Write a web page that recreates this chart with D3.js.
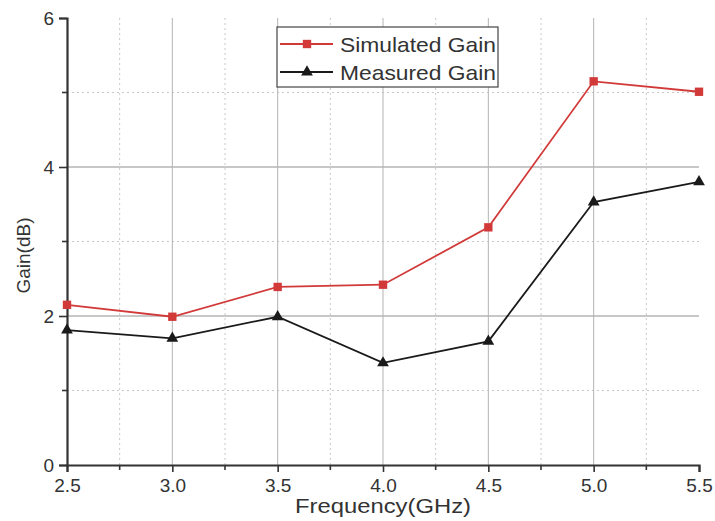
<!DOCTYPE html>
<html>
<head>
<meta charset="utf-8">
<script src="https://cdn.jsdelivr.net/npm/d3@7"></script>
<style>
  html, body { margin: 0; padding: 0; background: #fff; }
  text { font-family: "Liberation Sans", Arial, sans-serif; fill: #333; }
</style>
</head>
<body>
<svg id="chart" width="715" height="521"></svg>
<script>
// Frequency points (GHz) and gain values (dB)
const frequencies = [2.5, 3.0, 3.5, 4.0, 4.5, 5.0, 5.5];
const simulatedGain = [2.15, 1.99, 2.39, 2.42, 3.19, 5.15, 5.01];
const measuredGain = [1.81, 1.70, 1.99, 1.37, 1.66, 3.53, 3.80];
const xTicks = [2.5, 3.0, 3.5, 4.0, 4.5, 5.0, 5.5];
const yTicks = [0, 2, 4, 6];
const xMinor = [2.75, 3.25, 3.75, 4.25, 4.75, 5.25];
const yMinor = [1, 3, 5];

const svg = d3.select("#chart");
const margin = { left: 67, right: 16, top: 18, bottom: 56 };
const W = 715, H = 521;

const x = d3.scaleLinear().domain([2.5, 5.5]).range([margin.left, W - margin.right]);
const y = d3.scaleLinear().domain([0, 6]).range([H - margin.bottom, margin.top]);

// Minor grid (dotted)
const grid = svg.append("g");
grid.selectAll(".xminor").data(xMinor).enter().append("line")
  .attr("x1", d => x(d)).attr("x2", d => x(d))
  .attr("y1", y(0)).attr("y2", y(6))
  .attr("stroke", "#c8c8c8").attr("stroke-width", 1).attr("stroke-dasharray", "2,3");
grid.selectAll(".yminor").data(yMinor).enter().append("line")
  .attr("x1", x(2.5)).attr("x2", x(5.5))
  .attr("y1", d => y(d)).attr("y2", d => y(d))
  .attr("stroke", "#c8c8c8").attr("stroke-width", 1).attr("stroke-dasharray", "2,3");

// Major grid (solid)
grid.selectAll(".xmajor").data(xTicks.slice(1, -1)).enter().append("line")
  .attr("x1", d => x(d)).attr("x2", d => x(d))
  .attr("y1", y(0)).attr("y2", y(6))
  .attr("stroke", "#b4b4b4").attr("stroke-width", 1);
grid.selectAll(".ymajor").data(yTicks.slice(1, -1)).enter().append("line")
  .attr("x1", x(2.5)).attr("x2", x(5.5))
  .attr("y1", d => y(d)).attr("y2", d => y(d))
  .attr("stroke", "#b4b4b4").attr("stroke-width", 1.5);

// Axes
const xAxis = d3.axisBottom(x).tickValues(xTicks).tickFormat(d3.format(".1f"))
  .tickSizeOuter(0).tickSize(7).tickPadding(7);
const gx = svg.append("g").attr("transform", `translate(0,${y(0)})`).call(xAxis);
gx.selectAll("text").style("font-size", "19px").attr("fill", "#333");
gx.select(".domain").attr("stroke", "#333").attr("stroke-width", 2.2);
gx.selectAll(".tick line").attr("stroke", "#333").attr("stroke-width", 1.6);
gx.selectAll(".minor").data(xMinor).enter().append("line")
  .attr("x1", d => x(d)).attr("x2", d => x(d)).attr("y1", 0).attr("y2", 5)
  .attr("stroke", "#333").attr("stroke-width", 1.6);

const yAxis = d3.axisLeft(y).tickValues(yTicks).tickFormat(d3.format("d"))
  .tickSizeOuter(0).tickSize(8).tickPadding(5);
const gy = svg.append("g").attr("transform", `translate(${x(2.5)},0)`).call(yAxis);
gy.selectAll("text").style("font-size", "19px").attr("fill", "#333");
gy.select(".domain").attr("stroke", "#333").attr("stroke-width", 2.2);
gy.selectAll(".tick line").attr("stroke", "#333").attr("stroke-width", 1.6);
gy.selectAll(".minor").data(yMinor).enter().append("line")
  .attr("x1", -5).attr("x2", 0).attr("y1", d => y(d)).attr("y2", d => y(d))
  .attr("stroke", "#333").attr("stroke-width", 1.6);

// Axis titles
svg.append("text").attr("x", (x(2.5) + x(5.5)) / 2).attr("y", 513)
  .attr("text-anchor", "middle").style("font-size", "20px")
  .attr("textLength", 176).attr("lengthAdjust", "spacingAndGlyphs")
  .text("Frequency(GHz)");
svg.append("text").attr("transform", `translate(30,${y(3) + 14}) rotate(-90)`)
  .attr("text-anchor", "middle").style("font-size", "19px").text("Gain(dB)");

// Series
const red = "#d23a3a", black = "#1a1a1a";
const line = d3.line().x(d => x(d[0])).y(d => y(d[1]));
const simData = frequencies.map((f, i) => [f, simulatedGain[i]]);
const meaData = frequencies.map((f, i) => [f, measuredGain[i]]);

svg.append("path").datum(simData).attr("d", line)
  .attr("fill", "none").attr("stroke", red).attr("stroke-width", 1.8);
svg.append("path").datum(meaData).attr("d", line)
  .attr("fill", "none").attr("stroke", black).attr("stroke-width", 1.8);

const sq = d3.symbol().type(d3.symbolSquare).size(70);
const tri = d3.symbol().type(d3.symbolTriangle).size(60);
svg.selectAll(".sim").data(simData).enter().append("path")
  .attr("d", sq).attr("transform", d => `translate(${x(d[0])},${y(d[1])})`).attr("fill", red);
svg.selectAll(".mea").data(meaData).enter().append("path")
  .attr("d", tri).attr("transform", d => `translate(${x(d[0])},${y(d[1])})`).attr("fill", black);

// Legend
const lg = svg.append("g").attr("transform", "translate(277,27)");
lg.append("rect").attr("width", 221).attr("height", 60)
  .attr("fill", "#fff").attr("stroke", "#444").attr("stroke-width", 1.2);
const items = [
  { name: "Simulated Gain", color: red, sym: sq, y: 17, len: 156 },
  { name: "Measured Gain", color: black, sym: tri, y: 45, len: 156 }
];
items.forEach(it => {
  lg.append("line").attr("x1", 3).attr("x2", 56).attr("y1", it.y).attr("y2", it.y)
    .attr("stroke", it.color).attr("stroke-width", 1.8);
  lg.append("path").attr("d", it.sym).attr("transform", `translate(30,${it.y})`).attr("fill", it.color);
  lg.append("text").attr("x", 63).attr("y", it.y + 8).style("font-size", "21px")
    .attr("textLength", it.len).attr("lengthAdjust", "spacingAndGlyphs").text(it.name);
});
</script>
</body>
</html>
